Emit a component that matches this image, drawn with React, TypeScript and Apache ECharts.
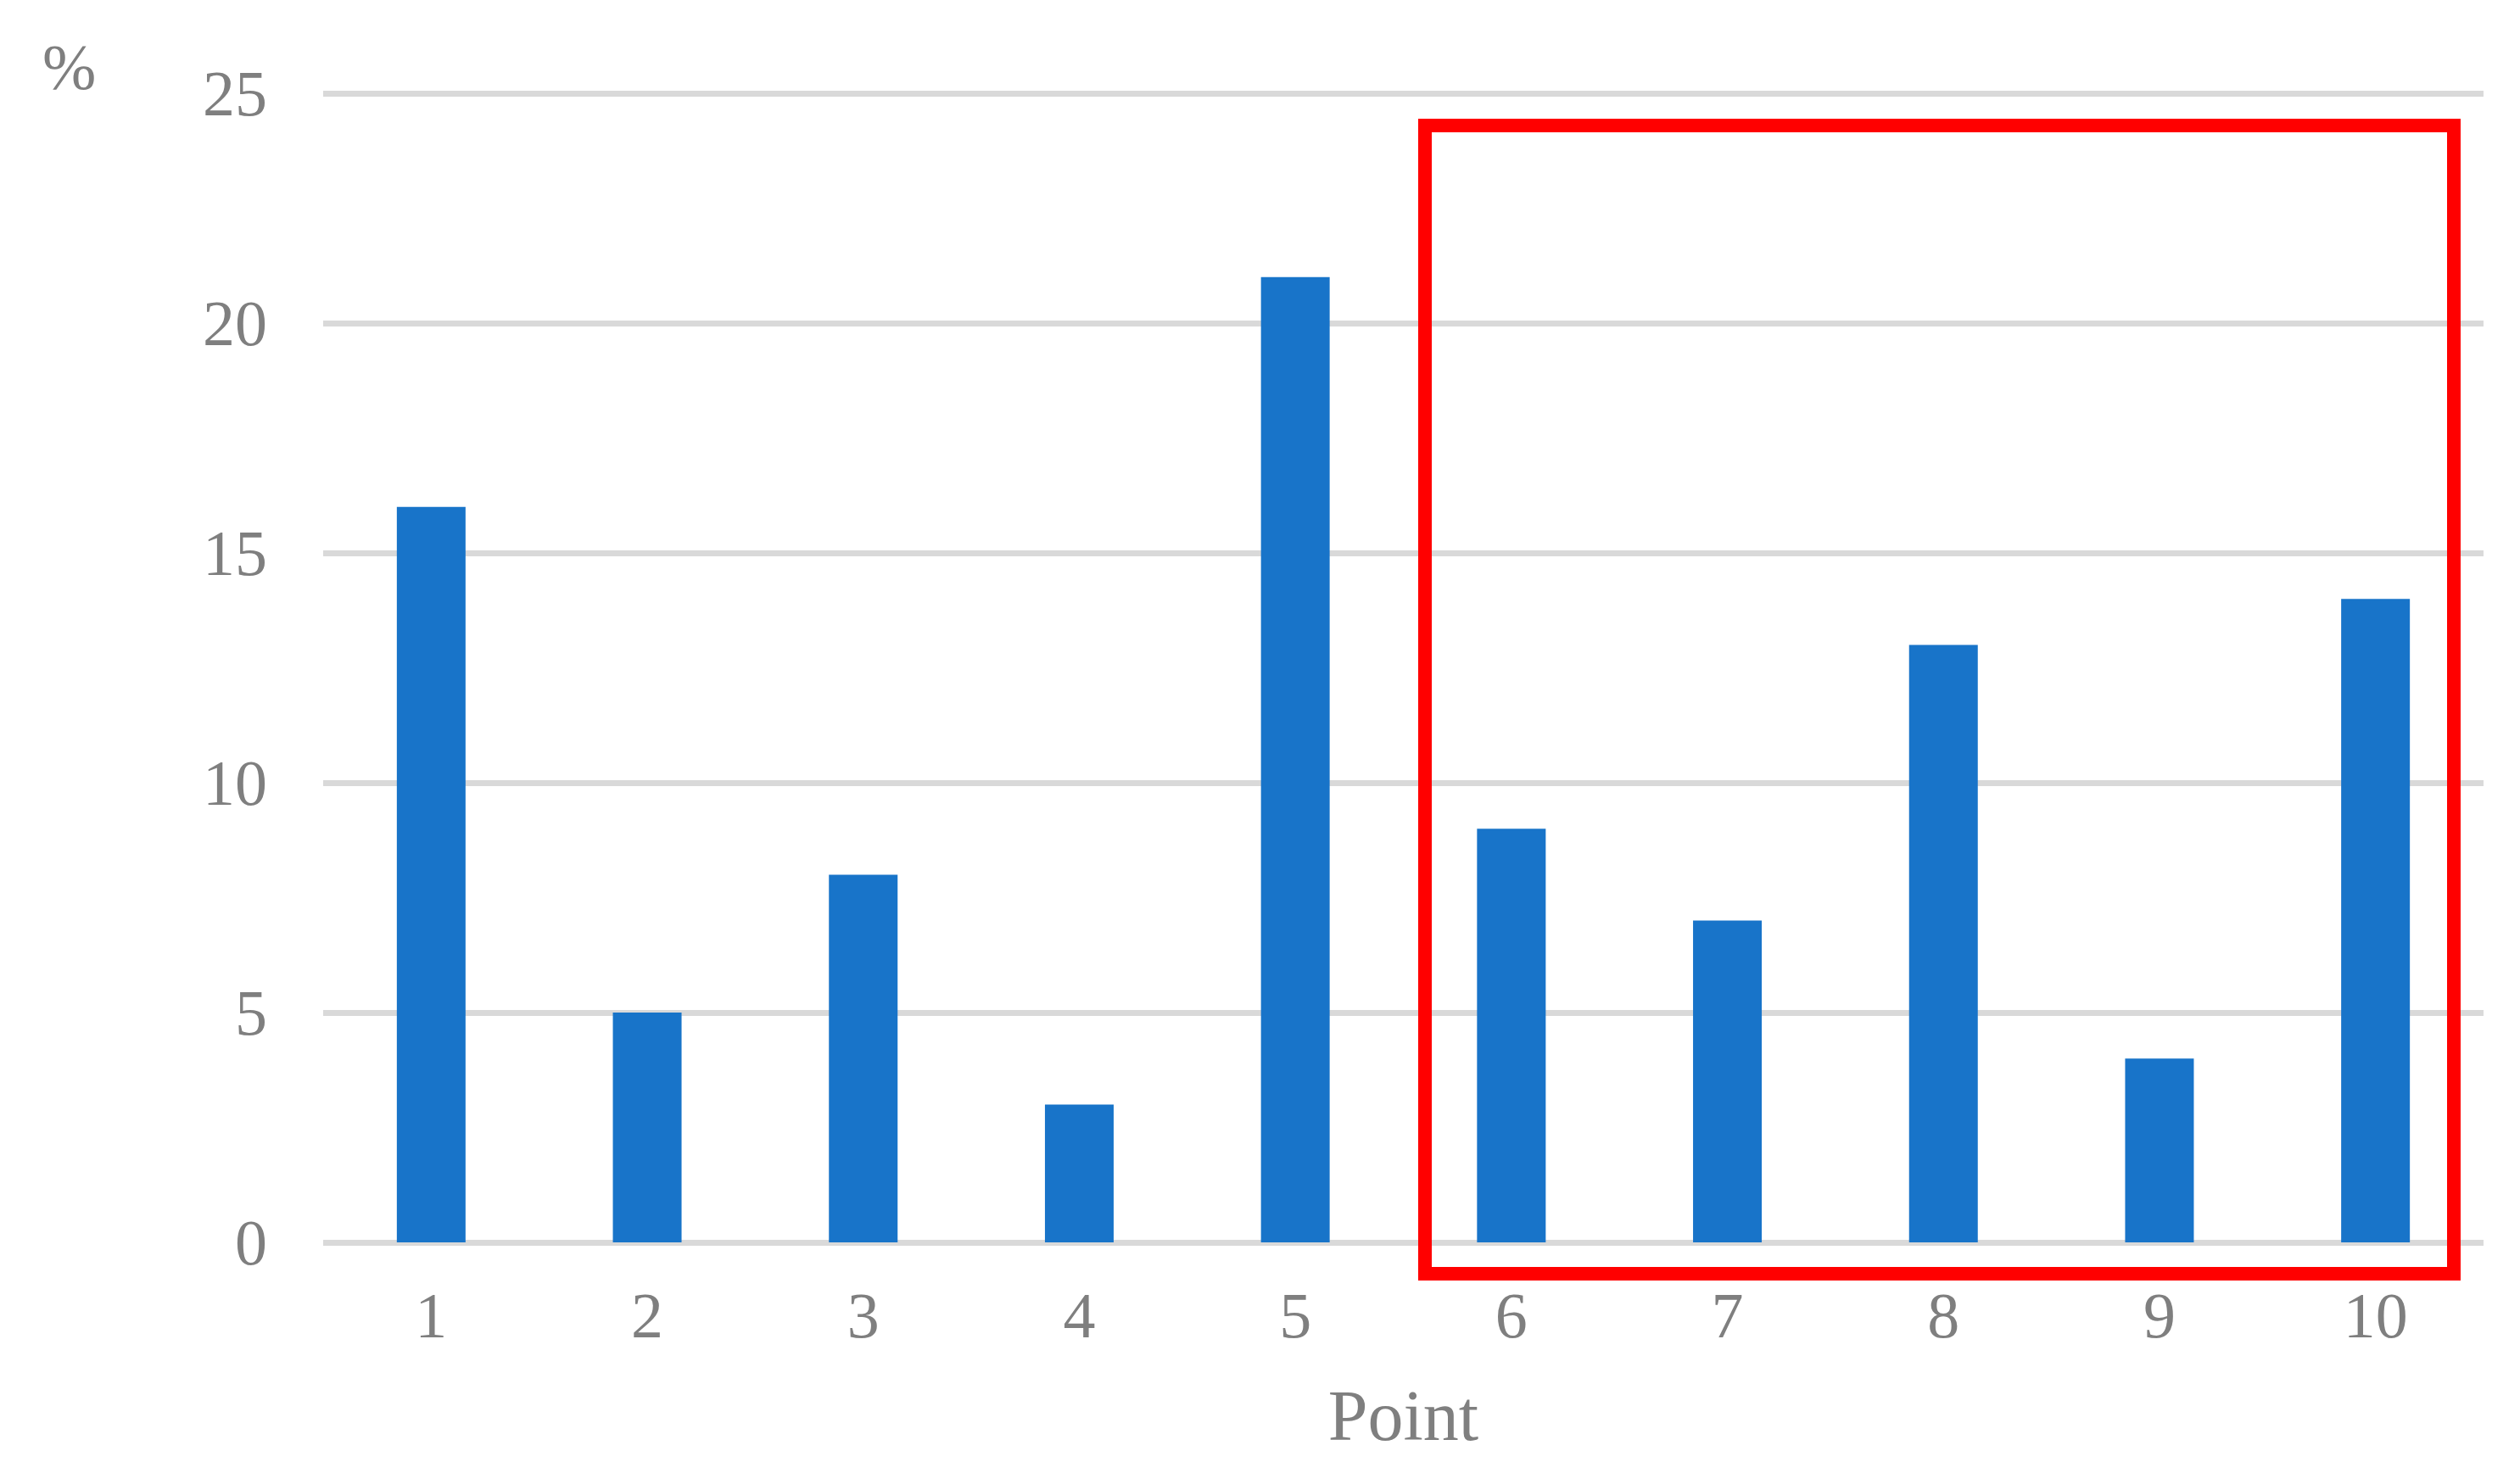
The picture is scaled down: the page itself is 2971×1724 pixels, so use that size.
import React, { useEffect, useRef } from "react";
import * as echarts from "echarts";

const categories = ["1", "2", "3", "4", "5", "6", "7", "8", "9", "10"];
const values = [16, 5, 8, 3, 21, 9, 7, 13, 4, 14];
const yTicks = { min: 0, max: 25, interval: 5 };
const yUnit = "%";
const xName = "Point";

export default function App() {
  const ref = useRef<HTMLDivElement>(null);
  useEffect(() => {
    document.body.style.margin = "0";
    const chart = echarts.init(ref.current!, null, { renderer: "svg" });
    const font = "'Liberation Serif', 'Times New Roman', serif";
    const grey = "#7F7F7F";
    chart.setOption({
      animation: false,
      backgroundColor: "#FFFFFF",
      title: {
        text: yUnit,
        left: 45,
        top: 36,
        textStyle: { fontFamily: font, fontSize: 76, fontWeight: "normal", color: grey },
      },
      grid: { left: 381, right: 43, top: 110, bottom: 259, containLabel: false },
      xAxis: {
        type: "category",
        data: categories,
        name: xName,
        nameLocation: "middle",
        nameGap: 162,
        nameTextStyle: { fontFamily: font, fontSize: 84, color: grey },
        axisLine: { show: false },
        axisTick: { show: false },
        axisLabel: { fontFamily: font, fontSize: 76, color: grey, margin: 48 },
      },
      yAxis: {
        type: "value",
        min: yTicks.min,
        max: yTicks.max,
        interval: yTicks.interval,
        axisLine: { show: false },
        axisTick: { show: false },
        axisLabel: { fontFamily: font, fontSize: 76, color: grey, margin: 66, padding: [0, 0, 8, 0] },
        splitLine: { lineStyle: { color: "#D9D9D9", width: 7 } },
      },
      series: [
        {
          type: "bar",
          data: values,
          barWidth: 81,
          itemStyle: { color: "#1874C9" },
          z: 3,
        },
      ],
      graphic: [
        {
          type: "rect",
          shape: { x: 1680, y: 148, width: 1213, height: 1354 },
          style: { fill: "none", stroke: "#FF0000", lineWidth: 16 },
          z: 10,
        },
      ],
    });
    return () => chart.dispose();
  }, []);
  return <div ref={ref} style={{ width: 2971, height: 1724 }} />;
}
